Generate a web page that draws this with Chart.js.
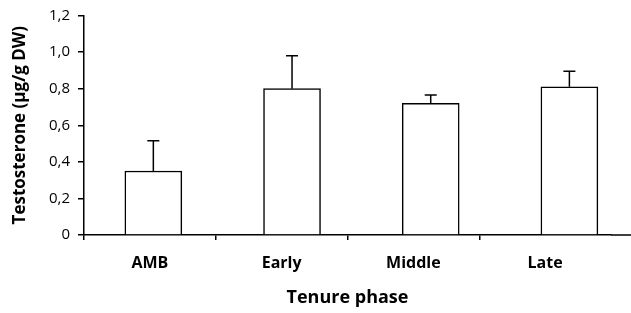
<!DOCTYPE html>
<html lang="en">
<head>
    <meta charset="UTF-8">
    <title>Testosterone by tenure phase</title>
    <script src="https://cdn.jsdelivr.net/npm/chart.js"></script>
    <style>
        html, body { margin: 0; padding: 0; background: #fff; }
        #wrap { width: 631px; height: 313px; }
    </style>
</head>
<body>
    <div id="wrap">
        <canvas id="myChart"></canvas>
    </div>

    <script>
        // data
        var phases = ['AMB', 'Early', 'Middle', 'Late'];
        var means = [0.35, 0.80, 0.72, 0.81];
        var errors = [0.165, 0.18, 0.045, 0.085];
        var yTicks = [0, 0.2, 0.4, 0.6, 0.8, 1.0, 1.2];

        var fontName = "'Open Sans', 'DejaVu Sans', sans-serif";

        // upward error bars with a cap
        var errorBars = {
            id: 'errorBars',
            afterDatasetsDraw: function (chart) {
                var meta = chart.getDatasetMeta(0);
                var y = chart.scales.y;
                var c = chart.ctx;
                c.save();
                c.strokeStyle = '#000';
                c.lineWidth = 1.5;
                meta.data.forEach(function (bar, i) {
                    var top = y.getPixelForValue(means[i] + errors[i]);
                    var base = y.getPixelForValue(means[i]);
                    c.beginPath();
                    c.moveTo(bar.x, base);
                    c.lineTo(bar.x, top);
                    c.moveTo(bar.x - 6, top);
                    c.lineTo(bar.x + 6, top);
                    c.stroke();
                });
                c.restore();
            }
        };

        // the x axis line runs on to the edge of the figure
        var axisRunOn = {
            id: 'axisRunOn',
            afterDraw: function (chart) {
                var c = chart.ctx;
                var yz = chart.scales.y.getPixelForValue(0);
                c.save();
                c.strokeStyle = '#000';
                c.lineWidth = 1.5;
                c.beginPath();
                c.moveTo(chart.chartArea.right, yz);
                c.lineTo(chart.width, yz);
                c.stroke();
                c.restore();
            }
        };

        new Chart(document.getElementById('myChart'), {
            type: 'bar',
            data: {
                labels: phases,
                datasets: [{
                    data: means.map(function (v, i) { return { x: i, y: v }; }),
                    xAxisID: 'xb',
                    backgroundColor: '#fff',
                    borderColor: '#000',
                    borderWidth: 1.5,
                    barThickness: 57
                }]
            },
            options: {
                responsive: true,
                maintainAspectRatio: false,
                animation: false,
                layout: { padding: { top: 2, right: 20, left: 6, bottom: 0 } },
                plugins: {
                    legend: { display: false },
                    tooltip: { enabled: false }
                },
                scales: {
                    x: {
                        type: 'category',
                        labels: phases,
                        position: 'bottom',
                        offset: true,
                        z: 1,
                        grid: {
                            offset: true,
                            drawOnChartArea: false,
                            tickLength: 5,
                            lineWidth: 1.5,
                            color: function (ctx) { return ctx.index === undefined ? 'rgba(0,0,0,0)' : '#000'; }
                        },
                        border: { color: '#000', width: 1.5 },
                        ticks: {
                            color: '#000',
                            padding: 14,
                            font: { family: fontName, size: 16, weight: 'bold' }
                        },
                        title: {
                            display: true,
                            text: 'Tenure phase',
                            color: '#000',
                            padding: { top: 8 },
                            font: { family: fontName, size: 18, weight: 'bold' }
                        },
                        afterFit: function (scale) { scale.height = 78; }
                    },
                    xb: {
                        type: 'linear',
                        display: false,
                        offset: false,
                        min: -0.5,
                        max: 3.3
                    },
                    y: {
                        min: 0,
                        max: 1.2,
                        afterBuildTicks: function (scale) {
                            scale.ticks = yTicks.map(function (v) { return { value: v }; });
                        },
                        grid: {
                            drawOnChartArea: false,
                            tickLength: 6,
                            lineWidth: 1.5,
                            color: '#000'
                        },
                        border: { color: '#000', width: 1.5 },
                        ticks: {
                            color: '#000',
                            padding: 8,
                            font: { family: fontName, size: 15, lineHeight: 1 },
                            callback: function (v) {
                                return v === 0 ? '0' : v.toFixed(1).replace('.', ',');
                            }
                        },
                        title: {
                            display: true,
                            text: 'Testosterone (\u00b5g/g DW)',
                            color: '#000',
                            padding: { bottom: 4 },
                            font: { family: fontName, size: 17, weight: 'bold' }
                        },
                        afterFit: function (scale) { scale.width = 78; }
                    }
                }
            },
            plugins: [errorBars, axisRunOn]
        });
    </script>
</body>
</html>
